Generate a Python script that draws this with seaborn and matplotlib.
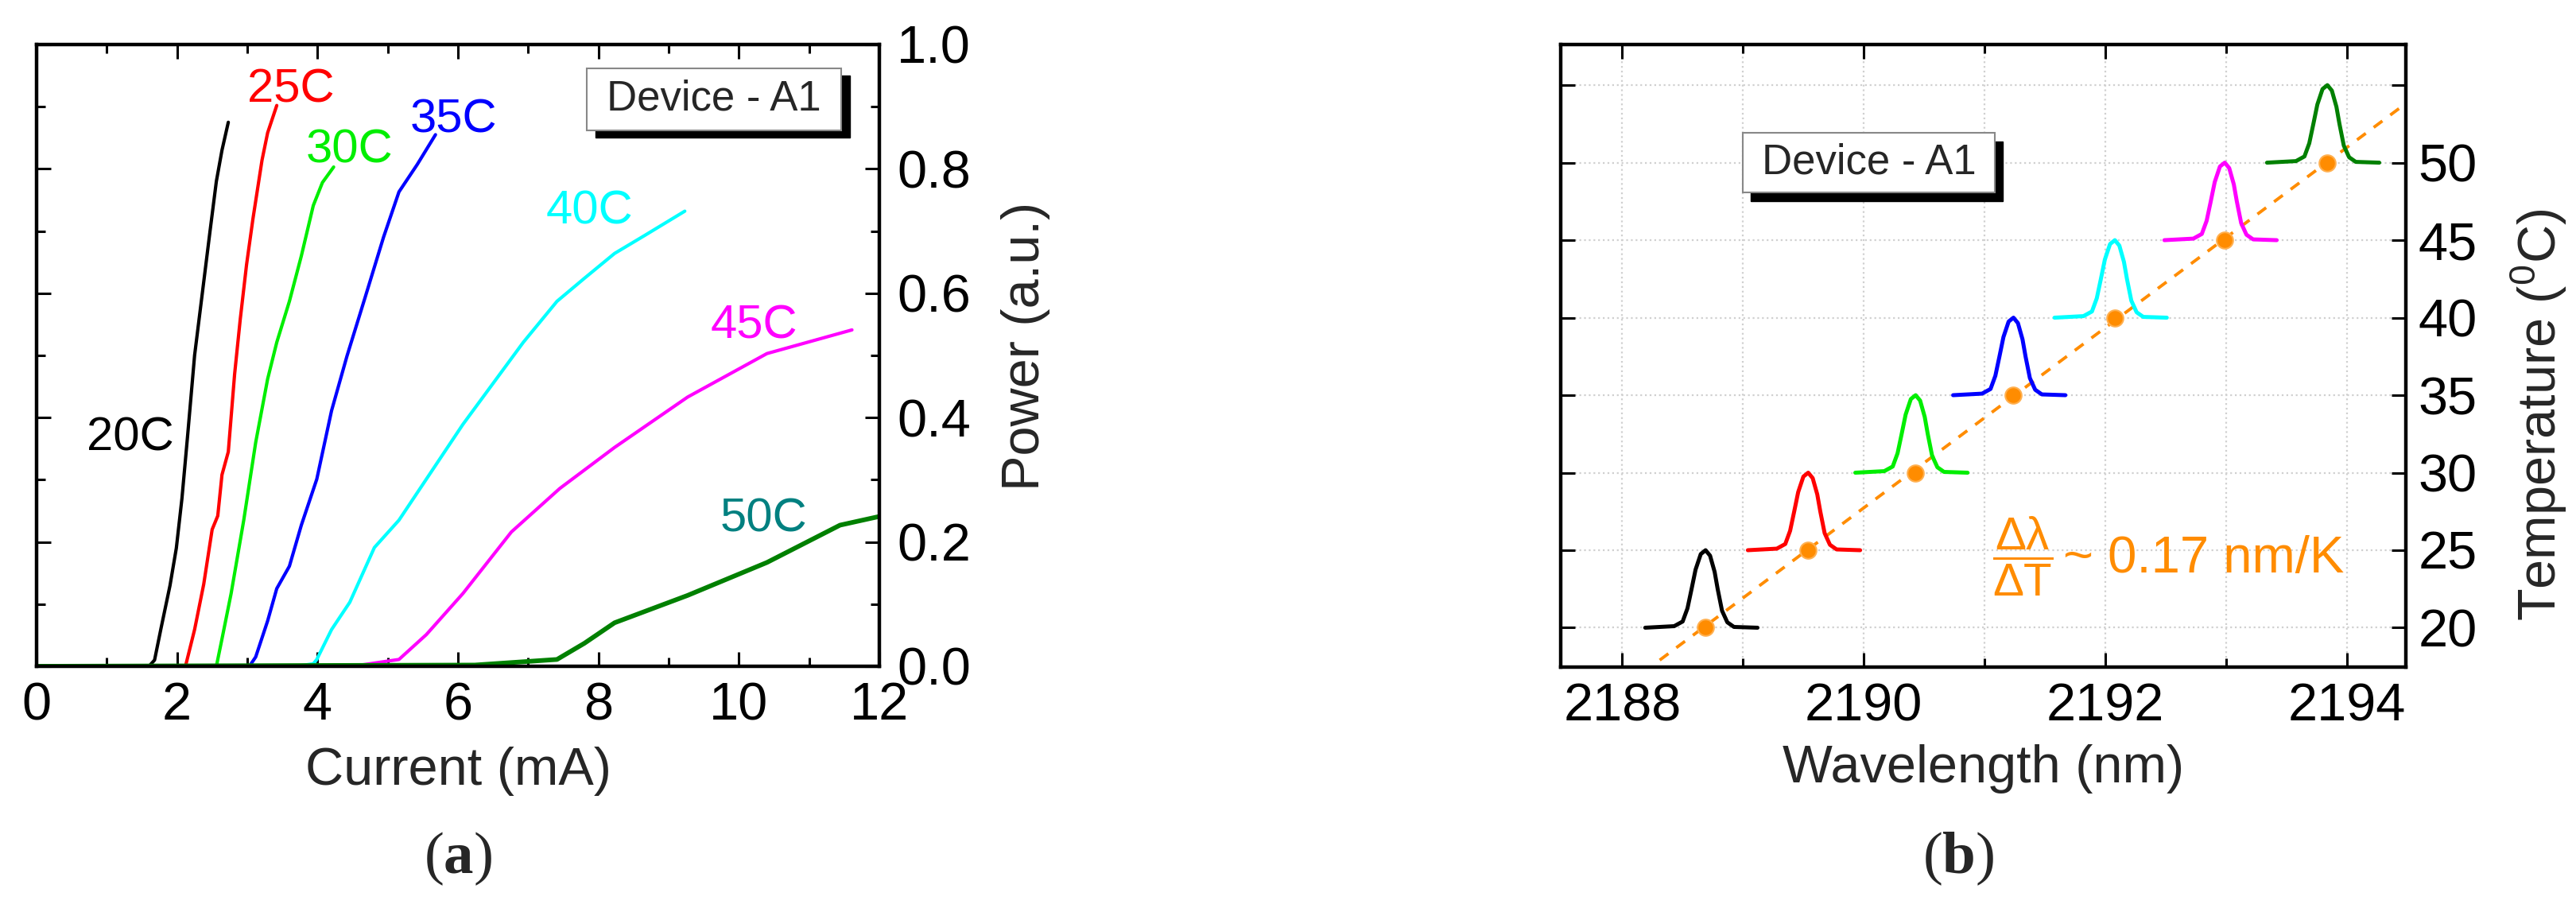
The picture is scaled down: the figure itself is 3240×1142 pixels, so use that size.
import numpy as np
import pandas as pd
import matplotlib
matplotlib.use('Agg')
import matplotlib.pyplot as plt
from matplotlib.patches import Rectangle
from matplotlib.ticker import MultipleLocator
import seaborn as sns

sns.set_style('ticks')
plt.rcParams['font.family'] = ['Liberation Sans', 'DejaVu Sans']
plt.rcParams['mathtext.fontset'] = 'custom'
plt.rcParams['mathtext.rm'] = 'Liberation Sans'
plt.rcParams['mathtext.it'] = 'Liberation Sans:italic'
plt.rcParams['mathtext.bf'] = 'Liberation Sans:bold'

# ---- (a) L-I curves ----
temps_a = ['20C', '25C', '30C', '35C', '40C', '45C', '50C']
colors_a = ['#000000', '#ff0000', '#00ee00', '#0000ff', '#00ffff', '#ff00ff', '#008000']
label_colors_a = ['#000000', '#ff0000', '#00ee00', '#0000ff', '#00ffff', '#ff00ff', '#008080']

current_20 = [0, 1.6, 1.68, 1.77, 1.90, 1.99, 2.07, 2.15, 2.25, 2.36, 2.47, 2.56, 2.64, 2.73]
power_20 = [0, 0, 0.01, 0.06, 0.13, 0.19, 0.27, 0.37, 0.50, 0.60, 0.70, 0.78, 0.83, 0.875]
current_25 = [0, 2.12, 2.25, 2.38, 2.50, 2.58, 2.64, 2.73, 2.82, 2.90, 2.99, 3.08, 3.21, 3.29, 3.42]
power_25 = [0, 0, 0.059, 0.132, 0.22, 0.242, 0.308, 0.345, 0.47, 0.558, 0.646, 0.719, 0.814, 0.858, 0.902]
current_30 = [0, 2.56, 2.64, 2.77, 2.95, 3.12, 3.29, 3.42, 3.60, 3.77, 3.94, 4.07, 4.23]
power_30 = [0, 0, 0.044, 0.117, 0.235, 0.36, 0.462, 0.521, 0.587, 0.66, 0.741, 0.778, 0.803]
current_35 = [0, 3.03, 3.12, 3.29, 3.42, 3.60, 3.77, 3.99, 4.20, 4.42, 4.68, 4.94, 5.16, 5.42, 5.68]
power_35 = [0, 0, 0.015, 0.073, 0.125, 0.161, 0.227, 0.301, 0.411, 0.499, 0.594, 0.69, 0.763, 0.807, 0.855]
current_40 = [0, 3.7, 3.94, 3.99, 4.20, 4.46, 4.81, 5.16, 5.55, 6.07, 6.50, 6.93, 7.41, 7.80, 8.23, 8.66, 9.23]
power_40 = [0, 0, 0.004, 0.011, 0.059, 0.103, 0.191, 0.235, 0.301, 0.389, 0.455, 0.521, 0.587, 0.624, 0.664, 0.693, 0.732]
current_45 = [0, 4.5, 5.16, 5.55, 6.07, 6.76, 7.45, 8.23, 9.27, 10.40, 11.61]
power_45 = [0, 0, 0.011, 0.051, 0.117, 0.216, 0.286, 0.352, 0.433, 0.503, 0.541]
current_50 = [0, 6.24, 7.41, 7.80, 8.23, 9.27, 10.40, 11.44, 12.0]
power_50 = [0, 0.002, 0.011, 0.037, 0.07, 0.114, 0.167, 0.227, 0.241]

currents = [current_20, current_25, current_30, current_35, current_40, current_45, current_50]
powers = [power_20, power_25, power_30, power_35, power_40, power_45, power_50]

# curve label anchors (data coords)
label_x_a = [1.34, 3.62, 4.46, 5.94, 7.87, 10.22, 10.35]
label_y_a = [0.367, 0.927, 0.83, 0.879, 0.731, 0.547, 0.237]

# ---- (b) spectra vs temperature ----
peak_temp = [20, 25, 30, 35, 40, 45, 50]
peak_wl = [2188.69, 2189.54, 2190.43, 2191.24, 2192.08, 2192.99, 2193.84]
colors_b = ['#000000', '#ff0000', '#00ee00', '#0000ff', '#00ffff', '#ff00ff', '#008000']
# common peak shape: offset from centre (nm) and rise above baseline (deg C)
profile_dwl = [-0.50, -0.26, -0.19, -0.15, -0.116, -0.083, -0.04, 0.0,
               0.037, 0.075, 0.10, 0.136, 0.18, 0.235, 0.43]
profile_dT = [0, 0.1, 0.4, 1.25, 2.5, 3.75, 4.75, 5.0,
              4.65, 3.6, 2.5, 1.1, 0.35, 0.05, 0]
fit_wl = [2188.31, 2194.49]
fit_T = [17.91, 53.82]

orange = '#ff8c00'
W, H = 3240, 1142
fig = plt.figure(figsize=(W / 100, H / 100), dpi=100)
ax_a = fig.add_axes([46 / W, 1 - 838 / H, 1060 / W, 782 / H])
ax_b = fig.add_axes([1963 / W, 1 - 839 / H, 1063 / W, 783 / H])

TICK_FS = 48


def style_axes(ax):
    for s in ax.spines.values():
        s.set_linewidth(3.2)
        s.set_color('black')
        s.set_visible(True)
    ax.tick_params(which='both', direction='in', top=True, bottom=True,
                   left=True, right=True, labelleft=False, labelright=True,
                   width=2.2, colors='black', labelsize=TICK_FS)
    ax.tick_params(which='major', length=13)
    ax.tick_params(which='minor', length=8)


# panel a
for i, t in enumerate(temps_a):
    df = pd.DataFrame({'current': currents[i], 'power': powers[i]})
    sns.lineplot(data=df, x='current', y='power', ax=ax_a, color=colors_a[i],
                 lw=4.2 if t == '50C' else 3.0, sort=False, estimator=None,
                 legend=False)
    ax_a.text(label_x_a[i], label_y_a[i], t, color=label_colors_a[i],
              fontsize=43, ha='center', va='center')

ax_a.set_xlim(0, 12)
ax_a.set_ylim(0, 1.0)
ax_a.xaxis.set_major_locator(MultipleLocator(2))
ax_a.xaxis.set_minor_locator(MultipleLocator(1))
ax_a.yaxis.set_major_locator(MultipleLocator(0.2))
ax_a.yaxis.set_minor_locator(MultipleLocator(0.1))
ax_a.yaxis.set_major_formatter(matplotlib.ticker.FormatStrFormatter('%.1f'))
style_axes(ax_a)
ax_a.tick_params(axis='x', pad=14)
ax_a.tick_params(axis='y', pad=16)
ax_a.set_xlabel('Current (mA)', fontsize=48)
ax_a.xaxis.set_label_coords(0.5, -0.169)
ax_a.xaxis.label.set_va('center')
ax_a.yaxis.set_label_position('right')
ax_a.set_ylabel('Power (a.u.)', fontsize=48)
ax_a.yaxis.set_label_coords(1.1736, 0.515)
ax_a.yaxis.label.set_va('center')

# device boxes with drop shadow
def device_box(ax, x0, y0, w, h, dx, dy, fs):
    ax.add_patch(Rectangle((x0 + dx, y0 - dy), w, h, transform=ax.transAxes,
                           facecolor='black', edgecolor='black', zorder=5))
    ax.add_patch(Rectangle((x0, y0), w, h, transform=ax.transAxes,
                           facecolor='white', edgecolor='#888888', lw=1.5, zorder=6))
    ax.text(x0 + w / 2, y0 + h / 2, 'Device - A1', transform=ax.transAxes,
            fontsize=fs, ha='center', va='center', zorder=7)


device_box(ax_a, 0.653, 0.862, 0.302, 0.0997, 0.0104, 0.0115, 38)

# panel b
ax_b.grid(True, which='both', axis='x', color='#d0d0d0', ls=':', lw=1.6)
ax_b.grid(True, which='major', axis='y', color='#d0d0d0', ls=':', lw=1.6)
sns.lineplot(x=fit_wl, y=fit_T, ax=ax_b, color=orange, lw=2.8,
             dashes=False, legend=False, zorder=3)
ax_b.lines[-1].set_dashes((3.5, 3.2))
for i in range(len(peak_temp)):
    wl = np.array(profile_dwl) + peak_wl[i]
    tt = np.array(profile_dT) + peak_temp[i]
    sns.lineplot(x=wl, y=tt, ax=ax_b, color=colors_b[i], lw=3.6, sort=False,
                 estimator=None, legend=False, zorder=4)
sns.scatterplot(x=peak_wl, y=peak_temp, ax=ax_b, color=orange, s=220,
                edgecolor='#ffb050', linewidth=1.5, zorder=5, legend=False)

ax_b.set_xlim(2187.49, 2194.49)
ax_b.set_ylim(17.46, 57.62)
ax_b.xaxis.set_major_locator(MultipleLocator(2))
ax_b.xaxis.set_minor_locator(MultipleLocator(1))
ax_b.set_yticks([20, 25, 30, 35, 40, 45, 50, 55],
                ['20', '25', '30', '35', '40', '45', '50', ''])
style_axes(ax_b)
ax_b.tick_params(axis='x', pad=14)
ax_b.tick_params(axis='y', pad=11)
ax_b.set_xlabel('Wavelength (nm)', fontsize=48)
ax_b.xaxis.set_label_coords(0.5, -0.163)
ax_b.xaxis.label.set_va('center')
ax_b.yaxis.set_label_position('right')
ax_b.set_ylabel('Temperature ($^0$C)', fontsize=48)
ax_b.yaxis.set_label_coords(1.157, 0.405)
ax_b.yaxis.label.set_va('center')

device_box(ax_b, 0.2154, 0.7625, 0.2982, 0.0958, 0.0094, 0.014, 38)

ax_b.text(2191.32, 24.6, r'$\dfrac{\mathregular{Δλ}}{\mathregular{ΔT}}$',
          color=orange, fontsize=42, ha='center', va='center', zorder=6)
ax_b.text(2191.65, 23.56, '~ 0.17 nm/K', color=orange, fontsize=47,
          ha='left', va='baseline', zorder=6)

# panel captions
plt.rcParams['mathtext.bf'] = 'Liberation Serif:bold'
fig.text(576 / W, 1 - 1080 / H, r'($\mathbf{a}$)', fontsize=54, ha='center',
         va='center', family='Liberation Serif')
fig.text(2463 / W, 1 - 1080 / H, r'($\mathbf{b}$)', fontsize=54, ha='center',
         va='center', family='Liberation Serif')

plt.savefig('out.png', dpi=100)
plt.close()
